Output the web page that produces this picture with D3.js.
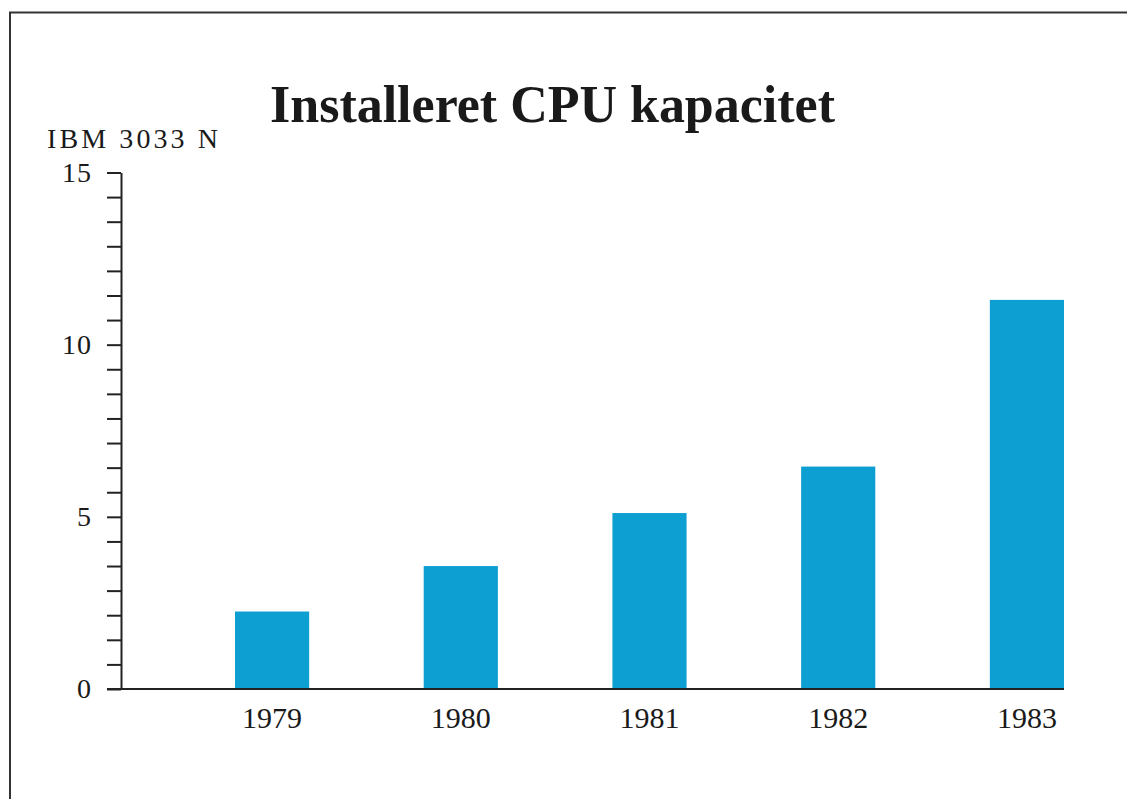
<!DOCTYPE html>
<html>
<head>
<meta charset="utf-8">
<script src="https://cdn.jsdelivr.net/npm/d3@7"></script>
<style>
  html, body { margin: 0; padding: 0; background: #fff; }
  svg { display: block; }
  text { font-family: "Liberation Serif", "DejaVu Serif", serif; fill: #1a1a1a; }
</style>
</head>
<body>
<svg id="chart"></svg>
<script>
// data
const years = ["1979", "1980", "1981", "1982", "1983"];
const capacity = [2.25, 3.57, 5.11, 6.46, 11.3];
const yLabels = [0, 5, 10, 15];
const minorSteps = 21; // the printed axis has 7 ticks between labels

const width = 1127;
const height = 799;

const svg = d3.select("#chart")
  .attr("width", width)
  .attr("height", height);

// page frame (top + left edge of the sheet)
svg.append("path")
  .attr("d", `M10,${height} L10,12.5 L${width},12.5`)
  .attr("fill", "none")
  .attr("stroke", "#333")
  .attr("stroke-width", 2);

const y = d3.scaleLinear().domain([0, 15]).range([689, 172.5]);
const x = d3.scaleBand().domain(years).range([235, 1064])
  .paddingInner(0.607).paddingOuter(0);

// bars
svg.append("g")
  .selectAll("rect")
  .data(years.map((yr, i) => ({ yr, v: capacity[i] })))
  .join("rect")
    .attr("x", d => x(d.yr))
    .attr("width", x.bandwidth())
    .attr("y", d => y(d.v))
    .attr("height", d => y(0) - y(d.v))
    .attr("fill", "#0e9fd2");

// y axis with minor ticks
const tickVals = d3.range(minorSteps + 1).map(i => i * 15 / minorSteps);
const yAxis = d3.axisLeft(y)
  .tickValues(tickVals)
  .tickSize(14)
  .tickSizeOuter(0)
  .tickFormat(d => {
    const r = Math.round(d);
    return (Math.abs(d - r) < 1e-6 && yLabels.includes(r)) ? r : "";
  });

const gy = svg.append("g")
  .attr("transform", "translate(121,0)")
  .call(yAxis);
gy.select(".domain").attr("stroke", "#222").attr("stroke-width", 2);
gy.selectAll(".tick line").attr("stroke", "#222").attr("stroke-width", 2);
gy.selectAll(".tick text")
  .attr("x", -29)
  .attr("font-size", 28)
  .attr("font-family", "Liberation Serif, serif")
  .attr("letter-spacing", 1)
  .attr("fill", "#1a1a1a");

// baseline
svg.append("line")
  .attr("x1", 107).attr("x2", 1064)
  .attr("y1", y(0)).attr("y2", y(0))
  .attr("stroke", "#222")
  .attr("stroke-width", 2);

// x labels
svg.append("g")
  .selectAll("text")
  .data(years)
  .join("text")
    .attr("x", d => x(d) + x.bandwidth() / 2)
    .attr("y", 728)
    .attr("text-anchor", "middle")
    .attr("font-size", 30)
    .text(d => d);

// axis title
svg.append("text")
  .attr("x", 47)
  .attr("y", 148)
  .attr("font-size", 28)
  .attr("textLength", 171)
  .attr("lengthAdjust", "spacing")
  .text("IBM 3033 N");

// chart title
svg.append("text")
  .attr("x", 270)
  .attr("y", 122)
  .attr("font-size", 52)
  .attr("font-weight", "bold")
  .attr("textLength", 565)
  .attr("lengthAdjust", "spacing")
  .text("Installeret CPU kapacitet");
</script>
</body>
</html>
